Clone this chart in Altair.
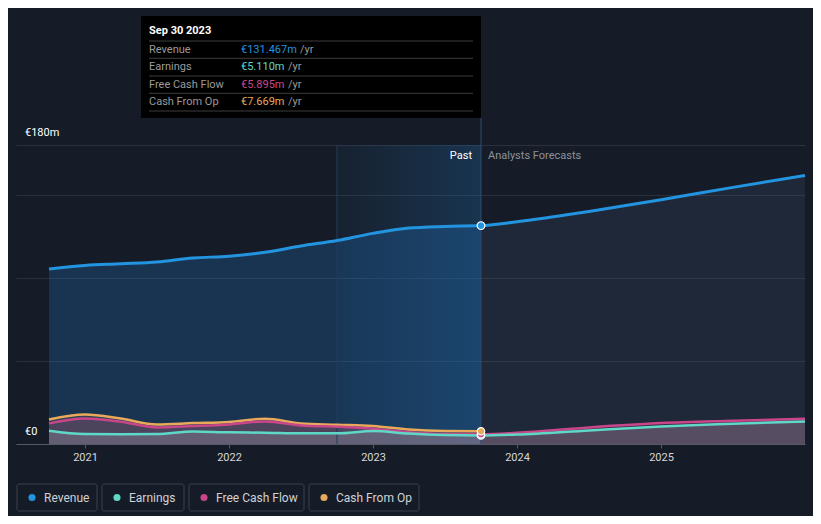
import altair as alt
import pandas as pd

# ---------------- data ----------------
series_names = ["Revenue", "Earnings", "Free Cash Flow", "Cash From Op"]
series_colors = ["#2394df", "#5fd8c8", "#c9468a", "#e8a95b"]

past_years = [2020.75, 2021.0, 2021.25, 2021.5, 2021.75, 2022.0, 2022.25,
              2022.5, 2022.75, 2023.0, 2023.25, 2023.5, 2023.75]
revenue_past = [105.4, 107.5, 108.5, 109.6, 112.0, 113.0, 115.4,
                119.2, 122.5, 126.8, 130.0, 131.0, 131.467]
earnings_past = [8.0, 6.0, 5.9, 6.0, 7.6, 7.0, 6.8,
                 6.4, 6.4, 7.8, 6.3, 5.4, 5.110]
fcf_past = [12.4, 15.3, 13.4, 10.0, 10.8, 11.8, 13.6,
            11.2, 10.4, 9.2, 7.1, 6.0, 5.895]
cfo_past = [14.8, 17.8, 15.3, 11.8, 12.6, 13.3, 15.2,
            12.4, 11.6, 10.8, 8.7, 7.8, 7.669]

forecast_years = [2023.75, 2024.0, 2024.5, 2025.0, 2025.5, 2026.0]
revenue_fc = [131.467, 133.8, 140.0, 147.0, 154.5, 161.7]
earnings_fc = [5.110, 5.7, 8.2, 10.6, 12.2, 13.6]
fcf_fc = [5.895, 6.8, 10.0, 12.6, 14.0, 15.2]

x_ticks = [2021, 2022, 2023, 2024, 2025]
y_grid = [0, 50, 100, 150, 180]
y_labels = [("€180m", 180), ("€0", 0)]
tooltip_title = "Sep 30 2023"
now_year = 2023.75
band_start = 2022.75

# ---------------- layout ----------------
W, H = 789, 428
FONT = "Roboto"
BG = "#161c27"
x_dom = [2021 - 69 / 144, 2026.0]
y_dom = [0, 180 * 428 / 299]

xs = alt.Scale(domain=x_dom, nice=False, zero=False)
ys = alt.Scale(domain=y_dom, nice=False, zero=False)
x_axis = alt.Axis(values=x_ticks, format="d", title=None, grid=False,
                  labelColor="#d6d6d6", labelFontSize=11, labelFont=FONT,
                  tickColor="#555b66", tickSize=4, domainColor="#555b66",
                  labelPadding=3)
y_axis = alt.Axis(values=y_grid, title=None, labels=False, ticks=False,
                  domain=False, grid=True, gridColor="#2b313c", gridWidth=1)


def df(years, vals):
    return pd.DataFrame({"year": years, "v": vals})


def X(field="year"):
    return alt.X(f"{field}:Q", scale=xs, axis=x_axis)


def Y(field="v"):
    return alt.Y(f"{field}:Q", scale=ys, axis=y_axis)


layers = []

# highlight band (last year of past)
band = alt.Chart(df([band_start], [180]).assign(b=[now_year], z=[0])).mark_rect(
    color=alt.Gradient(gradient="linear", x1=0, x2=1, y1=0, y2=0, stops=[
        alt.GradientStop(color="rgba(30,95,150,0.08)", offset=0),
        alt.GradientStop(color="rgba(30,95,150,0.36)", offset=1)])
).encode(x=X(), x2="b:Q", y=Y(), y2="z:Q")
layers.append(band)

# revenue areas
layers.append(alt.Chart(df(past_years, revenue_past)).mark_area(
    interpolate="monotone", color="#2174bd", opacity=0.28).encode(x=X(), y=Y()))
layers.append(alt.Chart(df(forecast_years, revenue_fc)).mark_area(
    interpolate="monotone", color="#3f5878", opacity=0.22).encode(x=X(), y=Y()))

# small series areas
layers.append(alt.Chart(df(past_years, cfo_past)).mark_area(
    interpolate="monotone", color="#e8a95b", opacity=0.12).encode(x=X(), y=Y()))
layers.append(alt.Chart(df(past_years + forecast_years[1:], fcf_past + fcf_fc[1:])).mark_area(
    interpolate="monotone", color="#c9468a", opacity=0.18).encode(x=X(), y=Y()))
layers.append(alt.Chart(df(past_years + forecast_years[1:], earnings_past + earnings_fc[1:])).mark_area(
    interpolate="monotone", color="#a9b0ba", opacity=0.25).encode(x=X(), y=Y()))

# band left edge
layers.append(alt.Chart(df([band_start], [180]).assign(z=[0])).mark_rule(
    color="#1f3f5e", strokeWidth=1).encode(x=X(), y=Y(), y2="z:Q"))

# lines
layers.append(alt.Chart(df(past_years, cfo_past)).mark_line(
    interpolate="monotone", color=series_colors[3], strokeWidth=2.5).encode(x=X(), y=Y()))
layers.append(alt.Chart(df(past_years + forecast_years[1:], fcf_past + fcf_fc[1:])).mark_line(
    interpolate="monotone", color=series_colors[2], strokeWidth=2.5).encode(x=X(), y=Y()))
layers.append(alt.Chart(df(past_years + forecast_years[1:], earnings_past + earnings_fc[1:])).mark_line(
    interpolate="monotone", color=series_colors[1], strokeWidth=2.5).encode(x=X(), y=Y()))
layers.append(alt.Chart(df(past_years + forecast_years[1:], revenue_past + revenue_fc[1:])).mark_line(
    interpolate="monotone", color=series_colors[0], strokeWidth=3).encode(x=X(), y=Y()))

# now line
layers.append(alt.Chart(pd.DataFrame({"year": [now_year]})).mark_rule(
    color="#2a4d6e", strokeWidth=1).encode(x=X(), y=alt.value(102), y2=alt.value(H)))

# markers at now
last_vals = [revenue_past[-1], earnings_past[-1], fcf_past[-1], cfo_past[-1]]
for i in [1, 2, 3, 0]:
    layers.append(alt.Chart(df([now_year], [last_vals[i]])).mark_point(
        filled=True, size=60 if i == 0 else 55, fill=series_colors[i], stroke="white",
        strokeWidth=1.2, opacity=1).encode(x=X(), y=Y()))

# Past / Analysts Forecasts
layers.append(alt.Chart(pd.DataFrame({"year": [now_year]})).mark_text(
    text="Past", align="right", baseline="middle", dx=-9, font=FONT, fontSize=11,
    color="#ffffff").encode(x=X(), y=alt.value(140)))
layers.append(alt.Chart(pd.DataFrame({"year": [now_year]})).mark_text(
    text="Analysts Forecasts", align="left", baseline="middle", dx=7, font=FONT,
    fontSize=11, color="#8c929b").encode(x=X(), y=alt.value(140)))

# y labels
for lab, val in y_labels:
    layers.append(alt.Chart(df([x_dom[0]], [val])).mark_text(
        text=lab, align="left", baseline="middle", dy=-12, font=FONT, fontSize=11,
        color="#ffffff").encode(x=alt.value(9), y=Y()))

# tooltip box
layers.append(alt.Chart(pd.DataFrame({"k": [0]})).mark_rect(color="#000000").encode(
    x=alt.value(125), x2=alt.value(465), y=alt.value(0), y2=alt.value(102)))
layers.append(alt.Chart(pd.DataFrame({"k": [0]})).mark_text(
    text=tooltip_title, align="left", baseline="middle", font=FONT, fontSize=11,
    fontWeight="bold", color="#ffffff").encode(x=alt.value(133), y=alt.value(15)))
sep_y = [25, 42.3, 60, 77.3, 95]
for sy in sep_y:
    layers.append(alt.Chart(pd.DataFrame({"k": [0]})).mark_rule(
        color="#3d3d3d", strokeWidth=1).encode(
        x=alt.value(133), x2=alt.value(457), y=alt.value(sy)))
row_y = [33.5, 51, 68.5, 86]
yr_x = [284, 272, 272, 272]
for i, name in enumerate(series_names):
    layers.append(alt.Chart(pd.DataFrame({"k": [0]})).mark_text(
        text=name, align="left", baseline="middle", font=FONT, fontSize=11,
        color="#9a9a9a").encode(x=alt.value(133), y=alt.value(row_y[i])))
    layers.append(alt.Chart(pd.DataFrame({"k": [0]})).mark_text(
        text=f"€{last_vals[i]:.3f}m", align="left", baseline="middle", font=FONT,
        fontSize=11, color=series_colors[i]).encode(x=alt.value(225), y=alt.value(row_y[i])))
    layers.append(alt.Chart(pd.DataFrame({"k": [0]})).mark_text(
        text="/yr", align="left", baseline="middle", font=FONT, fontSize=11,
        color="#9a9a9a").encode(x=alt.value(yr_x[i]), y=alt.value(row_y[i])))

# legend
box_x0 = [1, 86, 173, 293]
box_x1 = [81, 168, 288, 403]
for i, name in enumerate(series_names):
    layers.append(alt.Chart(pd.DataFrame({"k": [0]})).mark_rect(
        fill=BG, stroke="#3b414c", strokeWidth=1, cornerRadius=2).encode(
        x=alt.value(box_x0[i]), x2=alt.value(box_x1[i]), y=alt.value(468), y2=alt.value(495)))
    layers.append(alt.Chart(pd.DataFrame({"k": [0]})).mark_point(
        filled=True, size=50, color=series_colors[i], opacity=1).encode(
        x=alt.value(box_x0[i] + 15), y=alt.value(481.5)))
    layers.append(alt.Chart(pd.DataFrame({"k": [0]})).mark_text(
        text=name, align="left", baseline="middle", font=FONT, fontSize=12,
        color="#cfd2d6").encode(x=alt.value(box_x0[i] + 27), y=alt.value(481.5)))

chart = alt.layer(*layers).properties(
    width=W, height=H,
    autosize=alt.AutoSizeParams(type="none"),
    padding={"left": 8, "top": 8, "right": 8, "bottom": 72},
    background=BG,
).configure_view(stroke=None)

chart.save("out.html", embed_options={"renderer": "svg", "actions": False})
